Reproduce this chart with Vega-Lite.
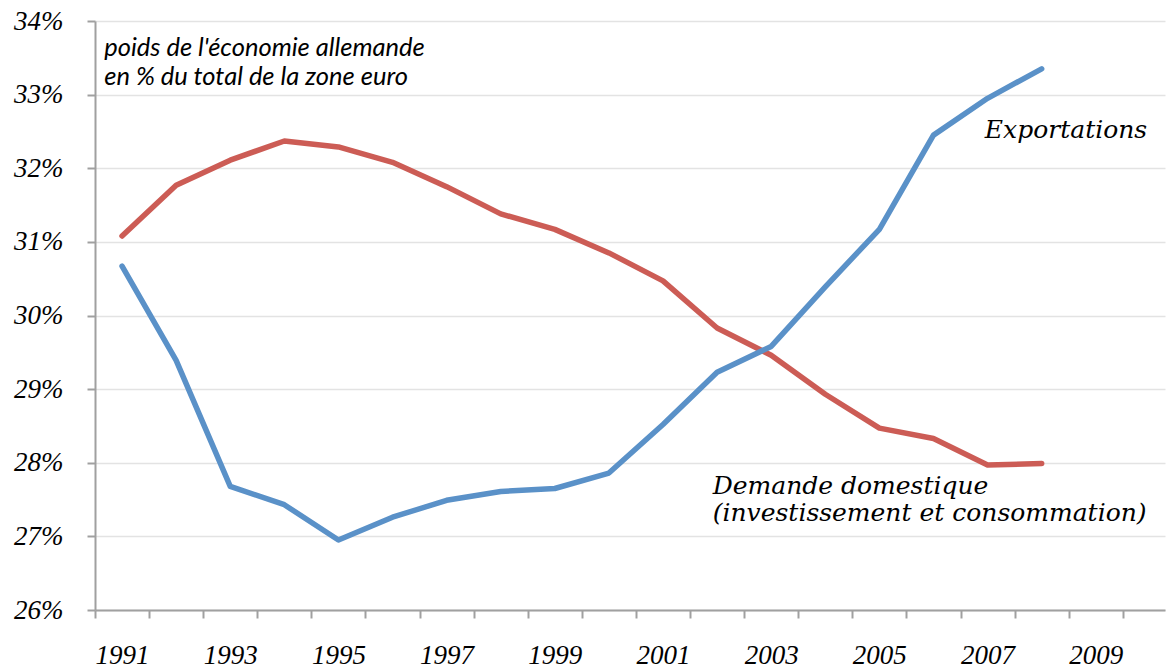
{
  "$schema": "https://vega.github.io/schema/vega-lite/v6.json",
  "width": 1070,
  "height": 589,
  "autosize": "none",
  "padding": {"left": 95, "top": 21, "right": 3, "bottom": 59},
  "background": "white",
  "config": {"view": {"stroke": null}},
  "datasets": {
    "series": [
      {"series": "Demande domestique", "year": 1991, "share": 31.08},
      {"series": "Demande domestique", "year": 1992, "share": 31.77},
      {"series": "Demande domestique", "year": 1993, "share": 32.11},
      {"series": "Demande domestique", "year": 1994, "share": 32.37},
      {"series": "Demande domestique", "year": 1995, "share": 32.29},
      {"series": "Demande domestique", "year": 1996, "share": 32.08},
      {"series": "Demande domestique", "year": 1997, "share": 31.75},
      {"series": "Demande domestique", "year": 1998, "share": 31.38},
      {"series": "Demande domestique", "year": 1999, "share": 31.17},
      {"series": "Demande domestique", "year": 2000, "share": 30.85},
      {"series": "Demande domestique", "year": 2001, "share": 30.47},
      {"series": "Demande domestique", "year": 2002, "share": 29.83},
      {"series": "Demande domestique", "year": 2003, "share": 29.46},
      {"series": "Demande domestique", "year": 2004, "share": 28.93},
      {"series": "Demande domestique", "year": 2005, "share": 28.47},
      {"series": "Demande domestique", "year": 2006, "share": 28.33},
      {"series": "Demande domestique", "year": 2007, "share": 27.97},
      {"series": "Demande domestique", "year": 2008, "share": 27.99},
      {"series": "Exportations", "year": 1991, "share": 30.67},
      {"series": "Exportations", "year": 1992, "share": 29.39},
      {"series": "Exportations", "year": 1993, "share": 27.68},
      {"series": "Exportations", "year": 1994, "share": 27.43},
      {"series": "Exportations", "year": 1995, "share": 26.95},
      {"series": "Exportations", "year": 1996, "share": 27.26},
      {"series": "Exportations", "year": 1997, "share": 27.49},
      {"series": "Exportations", "year": 1998, "share": 27.61},
      {"series": "Exportations", "year": 1999, "share": 27.65},
      {"series": "Exportations", "year": 2000, "share": 27.86},
      {"series": "Exportations", "year": 2001, "share": 28.52},
      {"series": "Exportations", "year": 2002, "share": 29.23},
      {"series": "Exportations", "year": 2003, "share": 29.58},
      {"series": "Exportations", "year": 2004, "share": 30.39},
      {"series": "Exportations", "year": 2005, "share": 31.17},
      {"series": "Exportations", "year": 2006, "share": 32.45},
      {"series": "Exportations", "year": 2007, "share": 32.95},
      {"series": "Exportations", "year": 2008, "share": 33.35}
    ],
    "notes": [
      {"label": "poids de l'économie allemande", "year": 1990.67, "share": 33.53},
      {"label": "en % du total de la zone euro", "year": 1990.67, "share": 33.13}
    ],
    "serieslabels": [
      {"label": "Exportations", "year": 2006.95, "share": 32.41},
      {"label": "Demande domestique", "year": 2001.92, "share": 27.57},
      {"label": "(investissement et consommation)", "year": 2001.92, "share": 27.21}
    ]
  },
  "layer": [
    {
      "data": {"name": "series"},
      "mark": {"type": "line", "strokeWidth": 5.5, "strokeCap": "round", "strokeJoin": "round"},
      "encoding": {
        "x": {
          "field": "year",
          "type": "quantitative",
          "scale": {"domain": [1990.5, 2010.28], "nice": false, "zero": false},
          "axis": {
            "title": null,
            "grid": false,
            "values": [1990.5, 1991.5, 1992.5, 1993.5, 1994.5, 1995.5, 1996.5, 1997.5, 1998.5, 1999.5, 2000.5, 2001.5, 2002.5, 2003.5, 2004.5, 2005.5, 2006.5, 2007.5, 2008.5, 2009.5],
            "labelExpr": "(datum.value + 0.5) % 2 == 1 ? format(datum.value + 0.5, 'd') : ''",
            "labelOffset": 27,
            "labelFont": "Liberation Serif",
            "labelFontStyle": "italic",
            "labelFontSize": 27,
            "labelColor": "#000000",
            "labelPadding": 24,
            "labelFlush": false,
            "labelOverlap": false,
            "labelBound": false,
            "tickSize": 8,
            "tickColor": "#A0A0A0",
            "tickWidth": 2,
            "domainColor": "#A0A0A0",
            "domainWidth": 2
          }
        },
        "y": {
          "field": "share",
          "type": "quantitative",
          "scale": {"domain": [26, 34], "nice": false, "zero": false},
          "axis": {
            "title": null,
            "values": [26, 27, 28, 29, 30, 31, 32, 33, 34],
            "labelExpr": "datum.value + '%'",
            "labelFont": "Liberation Serif",
            "labelFontStyle": "italic",
            "labelFontSize": 27,
            "labelColor": "#000000",
            "labelPadding": 24,
            "labelFlush": false,
            "labelOverlap": false,
            "labelBound": false,
            "tickSize": 8,
            "tickColor": "#A0A0A0",
            "tickWidth": 2,
            "domainColor": "#A0A0A0",
            "domainWidth": 2,
            "grid": true,
            "gridColor": "#E3E3E3",
            "gridWidth": 1.5
          }
        },
        "color": {
          "field": "series",
          "type": "nominal",
          "scale": {"domain": ["Demande domestique", "Exportations"], "range": ["#CC5C55", "#5A91C8"]},
          "legend": null
        }
      }
    },
    {
      "data": {"name": "notes"},
      "mark": {"type": "text", "align": "left", "baseline": "alphabetic", "font": "Lato", "fontStyle": "italic", "fontSize": 25.5, "color": "#000000"},
      "encoding": {
        "x": {"field": "year", "type": "quantitative"},
        "y": {"field": "share", "type": "quantitative"},
        "text": {"field": "label"}
      }
    },
    {
      "data": {"name": "serieslabels"},
      "mark": {"type": "text", "align": "left", "baseline": "alphabetic", "font": "DejaVu Serif", "fontStyle": "italic", "fontSize": 25, "color": "#000000"},
      "encoding": {
        "x": {"field": "year", "type": "quantitative"},
        "y": {"field": "share", "type": "quantitative"},
        "text": {"field": "label"}
      }
    }
  ]
}
